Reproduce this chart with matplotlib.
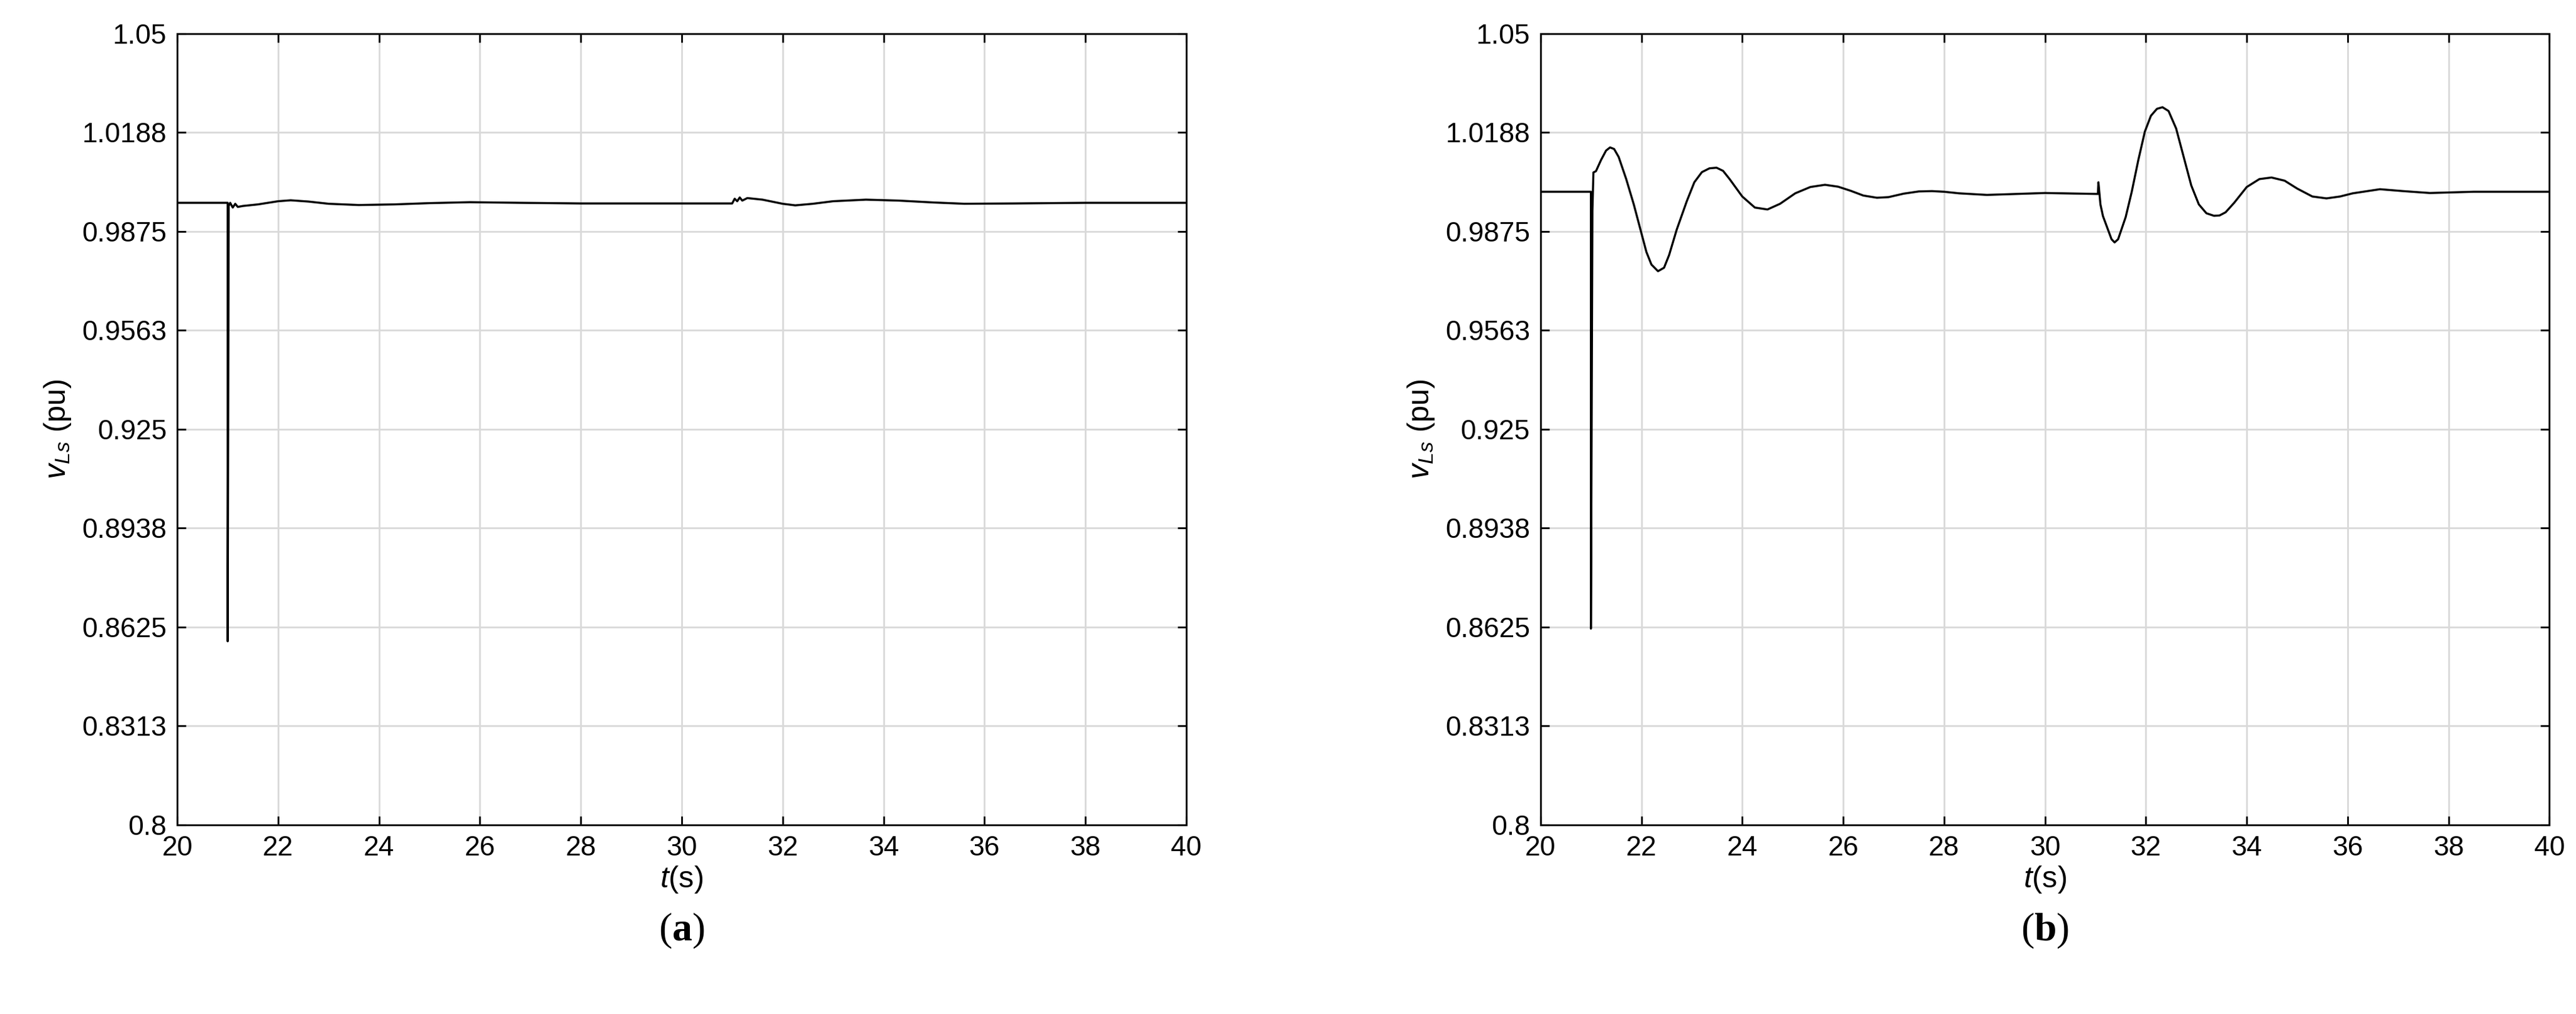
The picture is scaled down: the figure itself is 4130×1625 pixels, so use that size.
import matplotlib
matplotlib.use('Agg')
import matplotlib.pyplot as plt

# panel (a) key points
t_a = [20, 21.0, 21.0, 21.02, 21.05, 21.1, 21.15, 21.2, 21.3, 21.6, 22.0, 22.25, 22.6, 23.0, 23.6, 24.3,
       25.0, 25.8, 26.8, 28.0, 30.0, 31.0, 31.05, 31.1, 31.15, 31.2, 31.3, 31.6, 32.0, 32.25, 32.6,
       33.0, 33.65, 34.3, 35.0, 35.6, 36.6, 38.0, 40.0]
v_a = [0.9965, 0.9965, 0.858, 0.9955, 0.9965, 0.9950, 0.9962, 0.9952, 0.9955, 0.9960, 0.9970, 0.9973, 0.9969,
       0.9962, 0.9958, 0.9960, 0.9964, 0.9967, 0.9965, 0.9963, 0.9963, 0.9963, 0.9978, 0.9970, 0.9982,
       0.9972, 0.9980, 0.9975, 0.9962, 0.9957, 0.9962, 0.9970, 0.9975, 0.9972, 0.9966, 0.9962, 0.9963,
       0.9965, 0.9965]

# panel (b) key points
t_b = [20, 21.0, 21.0, 21.03, 21.05, 21.1, 21.2, 21.3, 21.38, 21.46, 21.55, 21.7, 21.85, 22.0, 22.1, 22.2,
       22.33, 22.45, 22.55, 22.7, 22.9, 23.05, 23.2, 23.35, 23.49, 23.62, 23.75, 24.0, 24.25, 24.5, 24.75,
       25.05, 25.35, 25.64, 25.9, 26.15, 26.4, 26.67, 26.9, 27.2, 27.5, 27.76, 28.0, 28.3, 28.85, 30.0,
       31.05, 31.06, 31.1, 31.15, 31.25, 31.32, 31.38, 31.45, 31.6, 31.72, 31.85, 31.98, 32.1, 32.22,
       32.33, 32.45, 32.6, 32.75, 32.9, 33.05, 33.2, 33.35, 33.46, 33.58, 33.75, 34.0, 34.25, 34.49,
       34.75, 35.0, 35.3, 35.58, 35.85, 36.1, 36.64, 37.1, 37.63, 38.5, 40.0]
v_b = [1.0, 1.0, 0.862, 0.9940, 1.0061, 1.0065, 1.0100, 1.0130, 1.0140, 1.0135, 1.0110, 1.0040, 0.9960,
       0.9870, 0.9810, 0.9770, 0.9749, 0.9760, 0.9800, 0.9880, 0.9970, 1.0030, 1.0062, 1.0074, 1.0076,
       1.0066, 1.0040, 0.9985, 0.9950, 0.9944, 0.9962, 0.9995, 1.0015, 1.0022, 1.0016, 1.0003, 0.9988,
       0.9981, 0.9983, 0.9994, 1.0001, 1.0002, 1.0000, 0.9995, 0.9990, 0.9996, 0.9993, 1.0030, 0.9960,
       0.9923, 0.9880, 0.9850, 0.9840, 0.9850, 0.9920, 1.0000, 1.0100, 1.0190, 1.0240, 1.0262, 1.0267,
       1.0255, 1.0200, 1.0110, 1.0020, 0.9960, 0.9932, 0.9924, 0.9925, 0.9935, 0.9965, 1.0015, 1.0040,
       1.0045, 1.0035, 1.0010, 0.9985, 0.9979, 0.9985, 0.9995, 1.0008, 1.0002, 0.9996, 1.0, 1.0]

yticks = [0.8, 0.8313, 0.8625, 0.8938, 0.925, 0.9563, 0.9875, 1.0188, 1.05]
ytick_labels = ['0.8', '0.8313', '0.8625', '0.8938', '0.925', '0.9563', '0.9875', '1.0188', '1.05']
xticks = list(range(20, 41, 2))

plt.rcParams['font.family'] = ['Liberation Sans', 'DejaVu Sans']
plt.rcParams['mathtext.fontset'] = 'custom'
plt.rcParams['mathtext.it'] = 'Liberation Sans:italic'
plt.rcParams['mathtext.rm'] = 'Liberation Sans'
plt.rcParams['mathtext.bf'] = 'Liberation Serif:bold'

fig = plt.figure(figsize=(41.3, 16.25), dpi=100)
panels = [(0.0688, t_a, v_a, 'a'), (0.598, t_b, v_b, 'b')]
for left, t, v, tag in panels:
    ax = fig.add_axes([left, 0.1865, 0.3917, 0.7805])
    ax.plot(t, v, color='black', linewidth=2.4)
    ax.set_xlim(20, 40)
    ax.set_ylim(0.8, 1.05)
    ax.set_xticks(xticks)
    ax.set_yticks(yticks)
    ax.set_yticklabels(ytick_labels)
    ax.tick_params(direction='in', top=True, right=True, labelsize=32, length=10, width=2, pad=12)
    ax.grid(color='#d9d9d9', linewidth=2)
    for s in ax.spines.values():
        s.set_linewidth(2)
    ax.set_xlabel('$t$(s)', fontsize=35, labelpad=4)
    ax.set_ylabel('$v_{Ls}$ (pu)', fontsize=35, labelpad=10)
    fig.text(left + 0.3917 / 2, 0.082, '($\\mathbf{' + tag + '}$)', ha='center', va='center',
             fontsize=46, family='Liberation Serif')

fig.savefig('out.png', dpi=100)
